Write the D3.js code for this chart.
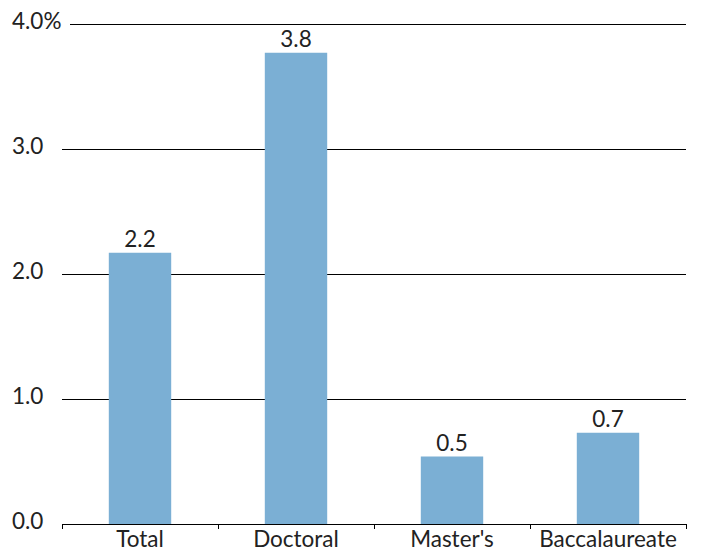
<!DOCTYPE html>
<html>
<head>
<meta charset="utf-8">
<script src="https://cdn.jsdelivr.net/npm/d3@7"></script>
<style>
  html, body { margin: 0; padding: 0; background: #fff; }
  svg text { font-family: "Lato", "Open Sans", sans-serif; font-weight: 400; fill: #222; }
</style>
</head>
<body>
<svg id="chart" width="701" height="554"></svg>
<script>
// Percent values by institution type
const categories = ["Total", "Doctoral", "Master's", "Baccalaureate"];
const values = [2.17, 3.77, 0.54, 0.73];
const yTicks = [0, 1, 2, 3, 4];

const svg = d3.select("#chart");
const plotLeft = 62, plotRight = 686, plotTop = 24, plotBottom = 524;
const fontSize = 22.5;

const x = d3.scaleBand()
  .domain(categories)
  .range([plotLeft, plotRight])
  .paddingInner(0.6)
  .paddingOuter(0.3);

const y = d3.scaleLinear().domain([0, 4]).range([plotBottom, plotTop]);

// Horizontal gridlines
svg.append("g")
  .selectAll("line")
  .data(yTicks.filter(d => d > 0))
  .join("line")
  .attr("x1", d => d === 4 ? plotLeft + 8 : plotLeft)
  .attr("x2", plotRight)
  .attr("y1", d => y(d))
  .attr("y2", d => y(d))
  .attr("stroke", "#000")
  .attr("stroke-width", 1)
  .attr("shape-rendering", "crispEdges");

// Y tick labels, left aligned
svg.append("g")
  .selectAll("text")
  .data(yTicks)
  .join("text")
  .attr("x", 12)
  .attr("y", d => y(d) + 5)
  .attr("font-size", fontSize)
  .text(d => d3.format(".1f")(d) + (d === 4 ? "%" : ""));

// Bars
svg.append("g")
  .selectAll("rect")
  .data(values)
  .join("rect")
  .attr("x", (d, i) => x(categories[i]))
  .attr("width", x.bandwidth())
  .attr("y", d => y(d))
  .attr("height", d => y(0) - y(d))
  .attr("fill", "#7bafd4");

// Value labels above bars
svg.append("g")
  .selectAll("text")
  .data(values)
  .join("text")
  .attr("x", (d, i) => x(categories[i]) + x.bandwidth() / 2)
  .attr("y", d => y(d) - 6)
  .attr("text-anchor", "middle")
  .attr("font-size", fontSize)
  .text(d => d3.format(".1f")(d));

// X axis with boundary ticks between categories
const bounds = d3.range(categories.length + 1)
  .map(i => plotLeft + i * (plotRight - plotLeft) / categories.length);
const xAxis = svg.append("g");
xAxis.append("line")
  .attr("x1", plotLeft).attr("x2", plotRight)
  .attr("y1", plotBottom).attr("y2", plotBottom)
  .attr("stroke", "#000")
  .attr("shape-rendering", "crispEdges");
xAxis.selectAll("line.tick")
  .data(bounds)
  .join("line")
  .attr("class", "tick")
  .attr("x1", d => d).attr("x2", d => d)
  .attr("y1", plotBottom).attr("y2", plotBottom + 5)
  .attr("stroke", "#000")
  .attr("shape-rendering", "crispEdges");
xAxis.selectAll("text")
  .data(categories)
  .join("text")
  .attr("x", d => x(d) + x.bandwidth() / 2)
  .attr("y", plotBottom + 23)
  .attr("text-anchor", "middle")
  .attr("font-size", fontSize)
  .text(d => d);
</script>
</body>
</html>
